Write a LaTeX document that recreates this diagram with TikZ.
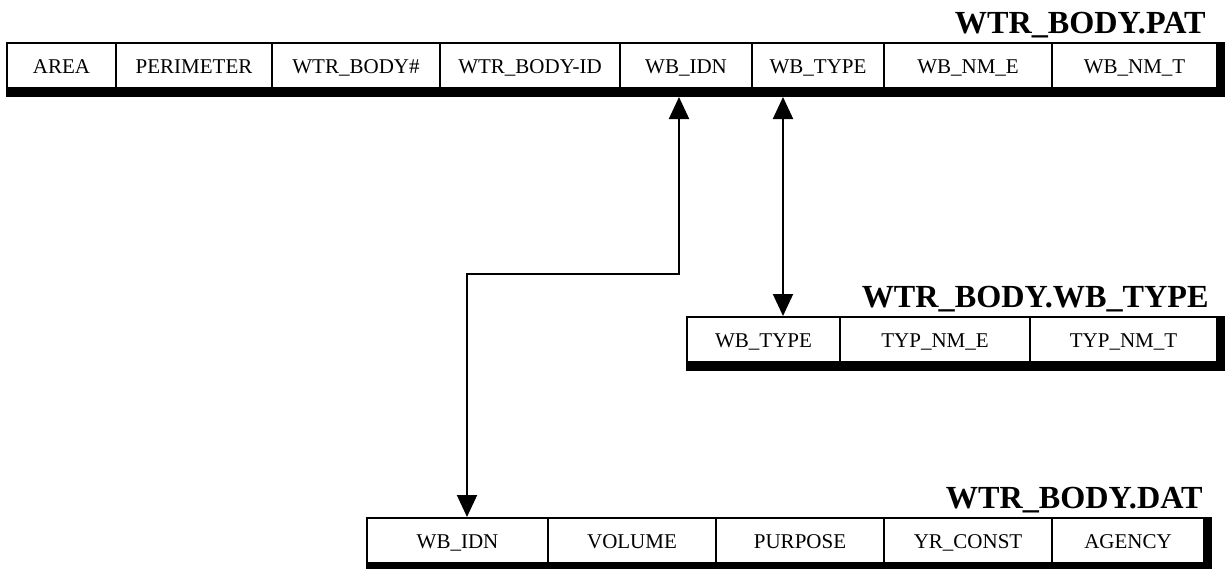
\documentclass[tikz,border=0pt]{standalone}
\usepackage{fontspec}
\setmainfont{Liberation Serif}
\usetikzlibrary{arrows.meta, positioning, fit, calc, backgrounds}

\tikzset{
    cell/.style={rectangle, draw, line width=1pt, fill=white, inner sep=0pt, minimum height=22.5pt, text height=9.2pt, text depth=1.7pt, anchor=north west, font=\fontsize{10.5}{12}\selectfont},
    shadowbox/.style={rectangle, fill=black, inner sep=0pt, outer sep=0pt},
    tabletitle/.style={anchor=base east, inner sep=0pt, font=\fontsize{16.1}{18}\selectfont\bfseries},
    link/.style={line width=1pt, {Triangle[length=11pt,width=10pt]}-{Triangle[length=11pt,width=10pt]}}
}

\begin{document}
\begin{tikzpicture}[x=0.5pt, y=-0.5pt]
\useasboundingbox (0,0) rectangle (1227,568);

% WTR_BODY.PAT
\foreach \l/\r/\txt/\nm in {6/115/AREA/pat-area, 115/271/PERIMETER/pat-perim, 271/439/{WTR\_BODY\#}/pat-num, 439/619/{WTR\_BODY-ID}/pat-id, 619/751/{WB\_IDN}/pat-idn, 751/883/{WB\_TYPE}/pat-type, 883/1051/{WB\_NM\_E}/pat-nme, 1051/1216/{WB\_NM\_T}/pat-nmt} {
    \pgfmathsetmacro\w{(\r-\l)/2}
    \node[cell, minimum width=\w pt] (\nm) at (\l,42) {\txt};
}
\node[tabletitle] (pat-title) at (1206,33) {WTR\_BODY.PAT};

% WTR_BODY.WB_TYPE
\foreach \l/\r/\txt/\nm in {686/839/{WB\_TYPE}/typ-type, 839/1029/{TYP\_NM\_E}/typ-nme, 1029/1216/{TYP\_NM\_T}/typ-nmt} {
    \pgfmathsetmacro\w{(\r-\l)/2}
    \node[cell, minimum width=\w pt] (\nm) at (\l,316) {\txt};
}
\node[tabletitle] (typ-title) at (1209,307) {WTR\_BODY.WB\_TYPE};

% WTR_BODY.DAT
\foreach \l/\r/\txt/\nm in {366/547/{WB\_IDN}/dat-idn, 547/715/VOLUME/dat-vol, 715/883/PURPOSE/dat-purp, 883/1051/{YR\_CONST}/dat-yr, 1051/1203/AGENCY/dat-agency} {
    \pgfmathsetmacro\w{(\r-\l)/2}
    \node[cell, minimum width=\w pt] (\nm) at (\l,517) {\txt};
}
\node[tabletitle] (dat-title) at (1203,508) {WTR\_BODY.DAT};

% shadows
\begin{scope}[on background layer]
\node[shadowbox, fit={(pat-area.north west) ($(pat-nmt.south east)+(7,8)$)}] (pat-shadow) {};
\node[shadowbox, fit={(typ-type.north west) ($(typ-nmt.south east)+(7,8)$)}] (typ-shadow) {};
\node[shadowbox, fit={(dat-idn.north west) ($(dat-agency.south east)+(7,8)$)}] (dat-shadow) {};
\end{scope}

% links
\coordinate (typelink) at (783,0);
\coordinate (idnbend) at (679,274);
\coordinate (datbend) at (467,274);
\draw[link] (pat-shadow.south -| idnbend) -- (idnbend) -- (datbend) -- (dat-idn.north -| datbend);
\draw[link] (pat-shadow.south -| typelink) -- (typ-type.north -| typelink);

\end{tikzpicture}
\end{document}
